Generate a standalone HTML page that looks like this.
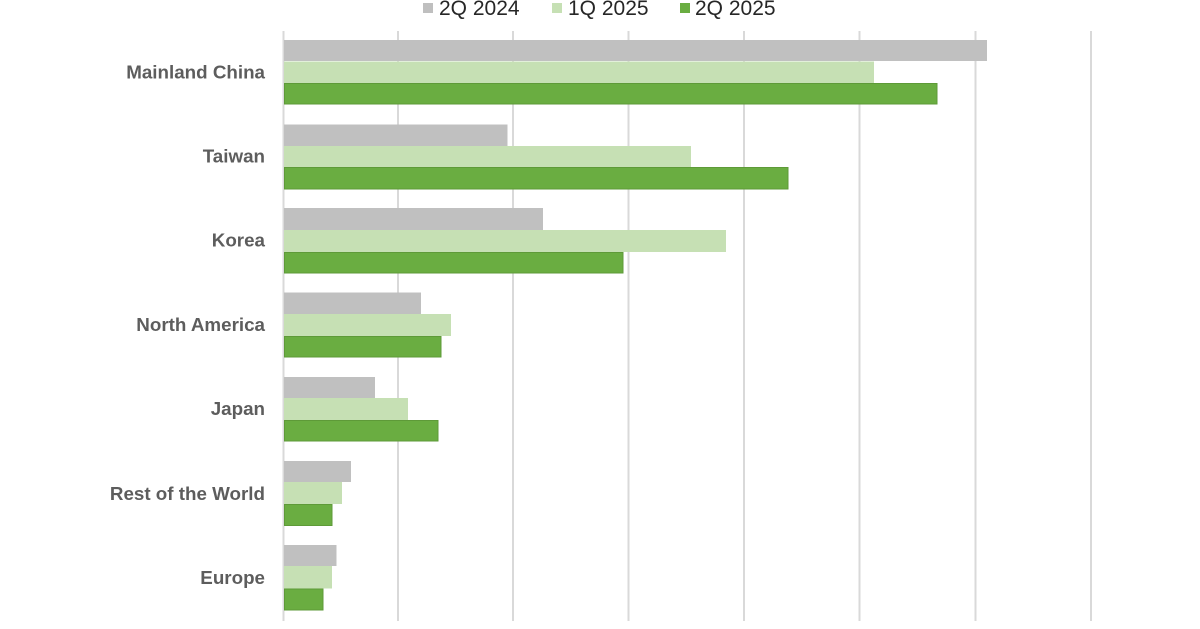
<!DOCTYPE html>
<html>
<head>
<meta charset="utf-8">
<style>
  html, body { margin:0; padding:0; background:#ffffff; }
  body { width:1200px; height:629px; overflow:hidden; }
  svg { display:block; }
  .lbl { font-family:"Liberation Sans", Arial, sans-serif; font-weight:bold; font-size:18.8px; fill:#5d5d5d; }
  .leg { font-family:"Liberation Sans", Arial, sans-serif; font-size:21px; fill:#262626; }
</style>
</head>
<body>
<svg width="1200" height="629" viewBox="0 0 1200 629" xmlns="http://www.w3.org/2000/svg">
  <rect x="0" y="0" width="1200" height="629" fill="#ffffff"/>
  <!-- gridlines -->
  <g stroke="#d9d9d9" stroke-width="2">
    <line x1="283.5" y1="31" x2="283.5" y2="621"/>
    <line x1="398" y1="31" x2="398" y2="621"/>
    <line x1="513" y1="31" x2="513" y2="621"/>
    <line x1="628.5" y1="31" x2="628.5" y2="621"/>
    <line x1="744" y1="31" x2="744" y2="621"/>
    <line x1="859.5" y1="31" x2="859.5" y2="621"/>
    <line x1="975.5" y1="31" x2="975.5" y2="621"/>
    <line x1="1091" y1="31" x2="1091" y2="621"/>
  </g>

  <!-- legend -->
  <rect x="423" y="3" width="10" height="10" fill="#bfbfbf"/>
  <text class="leg" x="439" y="15">2Q 2024</text>
  <rect x="552" y="3" width="10" height="10" fill="#c6e0b4"/>
  <text class="leg" x="568" y="15">1Q 2025</text>
  <rect x="680" y="3" width="10" height="10" fill="#6aad41"/>
  <text class="leg" x="695" y="15">2Q 2025</text>

  <!-- bars -->
  <g>
    <!-- Mainland China -->
    <rect x="284" y="40" width="703" height="21" fill="#c0c0c0"/>
    <rect x="284" y="61.5" width="590" height="21.5" fill="#c6e0b4"/>
    <rect x="284.5" y="83.5" width="652.5" height="20.5" fill="#6aad41" stroke="#5e9a38" stroke-width="1"/>
    <!-- Taiwan -->
    <rect x="284" y="124.5" width="223.5" height="21.5" fill="#c0c0c0"/>
    <rect x="284" y="146" width="407" height="21.5" fill="#c6e0b4"/>
    <rect x="284.5" y="167.5" width="503.5" height="21.5" fill="#6aad41" stroke="#5e9a38" stroke-width="1"/>
    <!-- Korea -->
    <rect x="284" y="208" width="259" height="22" fill="#c0c0c0"/>
    <rect x="284" y="230" width="442" height="22" fill="#c6e0b4"/>
    <rect x="284.5" y="252.5" width="338.5" height="20.5" fill="#6aad41" stroke="#5e9a38" stroke-width="1"/>
    <!-- North America -->
    <rect x="284" y="292.5" width="137" height="21.5" fill="#c0c0c0"/>
    <rect x="284" y="314" width="167" height="22" fill="#c6e0b4"/>
    <rect x="284.5" y="336.5" width="156.5" height="20.5" fill="#6aad41" stroke="#5e9a38" stroke-width="1"/>
    <!-- Japan -->
    <rect x="284" y="377" width="91" height="21" fill="#c0c0c0"/>
    <rect x="284" y="398" width="124" height="22" fill="#c6e0b4"/>
    <rect x="284.5" y="420.5" width="153.5" height="20.5" fill="#6aad41" stroke="#5e9a38" stroke-width="1"/>
    <!-- Rest of the World -->
    <rect x="284" y="461" width="67" height="21" fill="#c0c0c0"/>
    <rect x="284" y="482" width="58" height="22" fill="#c6e0b4"/>
    <rect x="284.5" y="504.5" width="47.5" height="21" fill="#6aad41" stroke="#5e9a38" stroke-width="1"/>
    <!-- Europe -->
    <rect x="284" y="545" width="52.5" height="21" fill="#c0c0c0"/>
    <rect x="284" y="566" width="48" height="22.5" fill="#c6e0b4"/>
    <rect x="284.5" y="589" width="38.5" height="21" fill="#6aad41" stroke="#5e9a38" stroke-width="1"/>
  </g>

  <!-- category labels -->
  <g text-anchor="end">
    <text class="lbl" x="265" y="78.5">Mainland China</text>
    <text class="lbl" x="265" y="162.5">Taiwan</text>
    <text class="lbl" x="265" y="246.5">Korea</text>
    <text class="lbl" x="265" y="331">North America</text>
    <text class="lbl" x="265" y="415">Japan</text>
    <text class="lbl" x="265" y="500">Rest of the World</text>
    <text class="lbl" x="265" y="584">Europe</text>
  </g>
</svg>
</body>
</html>
